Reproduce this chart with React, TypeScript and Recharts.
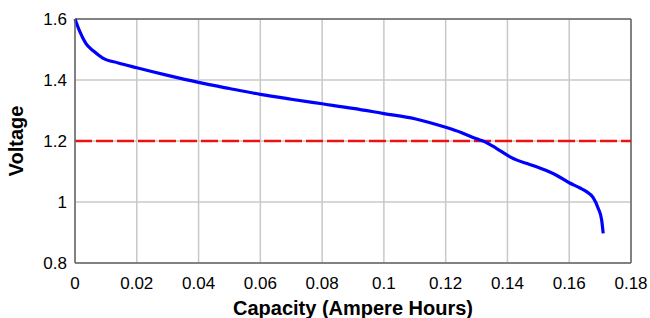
import { CartesianGrid, Line, LineChart, ReferenceLine, XAxis, YAxis } from "recharts";

const capacity = [
  0, 0.0015, 0.0035, 0.006, 0.009, 0.014, 0.02, 0.03, 0.04, 0.05, 0.06, 0.07,
  0.08, 0.09, 0.1, 0.11, 0.115, 0.12, 0.125, 0.13, 0.1321, 0.1364, 0.1407,
  0.1429, 0.147, 0.1526, 0.156, 0.16, 0.1635, 0.1656, 0.1677, 0.1694, 0.1705,
  0.171,
];
const voltage = [
  1.6, 1.56, 1.52, 1.495, 1.472, 1.456, 1.44, 1.415, 1.392, 1.372, 1.353,
  1.337, 1.322, 1.307, 1.29, 1.273, 1.26, 1.245, 1.228, 1.207, 1.2, 1.176,
  1.149, 1.138, 1.124, 1.103, 1.087, 1.063, 1.046, 1.034, 1.015, 0.979, 0.941,
  0.897,
];
const xTicks = [0, 0.02, 0.04, 0.06, 0.08, 0.1, 0.12, 0.14, 0.16, 0.18];
const yTicks = [0.8, 1, 1.2, 1.4, 1.6];
const cutoffVoltage = 1.2;

const data = capacity.map((c, i) => ({ capacity: c, voltage: voltage[i] }));

const font = "'Liberation Sans', Arial, sans-serif";
const tickStyle = { fontSize: 17, fill: "#000", fontFamily: font };

const YLabel = ({ viewBox }: any) => {
  const cy = viewBox.y + viewBox.height / 2;
  return (
    <text
      x={16}
      y={cy}
      transform={`rotate(-90, 16, ${cy})`}
      textAnchor="middle"
      dominantBaseline="central"
      fontSize={20}
      fontWeight="bold"
      fontFamily={font}
      fill="#000"
    >
      Voltage
    </text>
  );
};

const XLabel = ({ viewBox }: any) => (
  <text
    x={viewBox.x + viewBox.width / 2}
    y={315}
    textAnchor="middle"
    fontSize={20}
    fontWeight="bold"
    fontFamily={font}
    fill="#000"
  >
    Capacity (Ampere Hours)
  </text>
);

export default function App() {
  return (
    <div style={{ position: "absolute", left: 0, top: 0, background: "#fff" }}>
      <LineChart
        width={650}
        height={318}
        data={data}
        margin={{ top: 19, right: 19, left: 0, bottom: 0 }}
      >
        <CartesianGrid stroke="#c8c8c8" strokeWidth={1.5} />
        <XAxis
          dataKey="capacity"
          type="number"
          domain={[0, 0.18]}
          ticks={xTicks}
          tickFormatter={(v: number) => String(Number(v.toFixed(2)))}
          tick={tickStyle}
          tickLine={false}
          tickMargin={8}
          height={55}
          axisLine={{ stroke: "#666", strokeWidth: 1.5 }}
          label={<XLabel />}
        />
        <YAxis
          type="number"
          domain={[0.8, 1.6]}
          ticks={yTicks}
          tickFormatter={(v: number) => String(v)}
          tick={tickStyle}
          tickLine={false}
          width={75}
          axisLine={{ stroke: "#666", strokeWidth: 1.5 }}
          label={<YLabel />}
        />
        <ReferenceLine y={1.6} stroke="#666" strokeWidth={1.5} />
        <ReferenceLine x={0.18} stroke="#666" strokeWidth={1.5} />
        <ReferenceLine
          y={cutoffVoltage}
          stroke="#ee1111"
          strokeWidth={2.5}
          strokeDasharray="17 4"
        />
        <Line
          type="monotone"
          dataKey="voltage"
          stroke="#0000ff"
          strokeWidth={3.2}
          dot={false}
          isAnimationActive={false}
        />
      </LineChart>
    </div>
  );
}
